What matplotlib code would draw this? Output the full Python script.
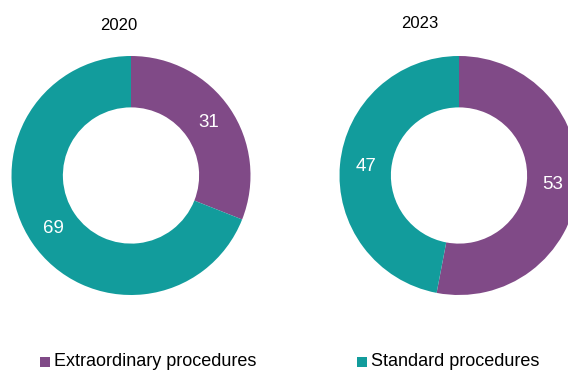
import matplotlib.pyplot as plt

plt.rcParams['font.family'] = ['Liberation Sans Narrow', 'Liberation Sans', 'DejaVu Sans']

years = ['2020', '2023']
categories = ['Extraordinary procedures', 'Standard procedures']
extraordinary = [31, 53]
standard = [69, 47]
colors = ['#804A87', '#129C9C']

W, H = 568, 374
fig = plt.figure(figsize=(W / 100, H / 100), dpi=100)
ax = fig.add_axes([0, 0, 1, 1])
ax.set_xlim(0, W)
ax.set_ylim(0, H)
ax.set_aspect('equal')
ax.axis('off')

# pixel layout of the two rings
centers = [(131, H - 175.5), (459, H - 175.5)]
title_pos = [(119, H - 25), (420, H - 23)]
radius = 119.5
ring = 0.43

for i, year in enumerate(years):
    vals = [extraordinary[i], standard[i]]
    wedges, texts, autotexts = ax.pie(
        vals, colors=colors, startangle=90, counterclock=False,
        center=centers[i], radius=radius, labels=None,
        autopct=lambda p: f'{p:.0f}', pctdistance=0.785,
        wedgeprops=dict(width=radius * ring, linewidth=0),
        textprops=dict(color='white', fontsize=13.5))
    ax.text(title_pos[i][0], title_pos[i][1], year, ha='center', va='center',
            fontsize=12, color='black')

ax.set_xlim(0, W)
ax.set_ylim(0, H)

# legend
leg_x = [40, 357]
for x, label, c in zip(leg_x, categories, colors):
    ax.add_patch(plt.Rectangle((x, H - 367), 10, 10, color=c, linewidth=0))
    ax.text(x + 14, H - 362, label, ha='left', va='center', fontsize=13, color='black')

fig.savefig('out.png', dpi=100)
